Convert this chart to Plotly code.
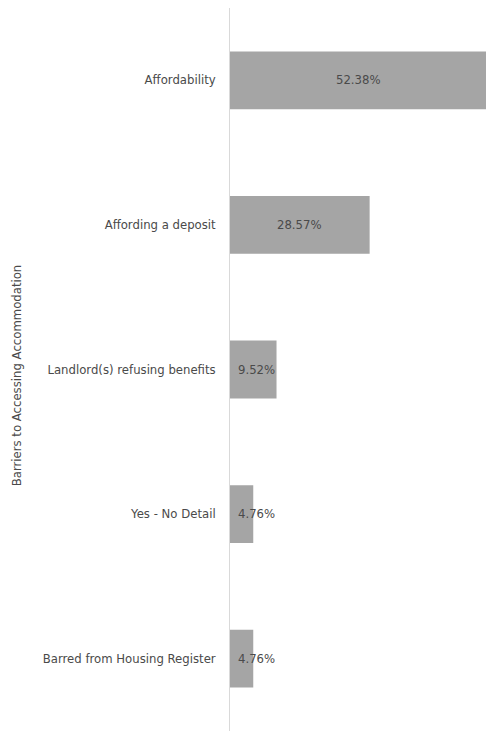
import plotly.graph_objects as go

# Barriers reported when trying to access accommodation (share of respondents, %)
categories = [
    "Affordability",
    "Affording a deposit",
    "Landlord(s) refusing benefits",
    "Yes - No Detail",
    "Barred from Housing Register",
]
shares = [52.38, 28.57, 9.52, 4.76, 4.76]
value_labels = [f"{v:.2f}%" for v in shares]
axis_title = "Barriers to Accessing Accommodation"

BAR = "#a5a5a5"
TEXT = "#4a4a4a"
AXIS = "#d9d9d9"
FONT = "'DejaVu Sans', sans-serif"
FS = 11.7

fig = go.Figure(
    go.Bar(
        y=categories,
        x=shares,
        orientation="h",
        marker=dict(color=BAR, line=dict(width=0)),
        hoverinfo="skip",
    )
)

# value labels: centred in the bar, nudged right when the bar is too short
min_centre = 5.4
for cat, v, lab in zip(categories, shares, value_labels):
    fig.add_annotation(
        x=max(v / 2, min_centre), y=cat, xref="x", yref="y",
        text=lab, showarrow=False,
        font=dict(family=FONT, size=FS, color=TEXT),
        xanchor="center", yanchor="middle",
    )

# rotated category-axis title at the far left edge
fig.add_annotation(
    x=-0.832, y=0.492, xref="paper", yref="paper",
    text=axis_title, textangle=-90, showarrow=False,
    font=dict(family=FONT, size=FS, color=TEXT),
    xanchor="center", yanchor="middle",
)

fig.update_layout(
    width=486, height=731,
    margin=dict(l=230, r=0, t=8, b=0),
    paper_bgcolor="white", plot_bgcolor="white",
    bargap=0.6,
    showlegend=False,
    font=dict(family=FONT, size=FS, color=TEXT),
)
fig.update_xaxes(
    range=[0, 52.38], visible=False, showgrid=False, zeroline=False, fixedrange=True,
)
fig.update_yaxes(
    autorange="reversed",
    showline=True, linecolor=AXIS, linewidth=1,
    showgrid=False, zeroline=False, ticks="",
    ticklabelstandoff=11,
    tickfont=dict(family=FONT, size=FS, color=TEXT),
)

fig.write_html("out.html")
